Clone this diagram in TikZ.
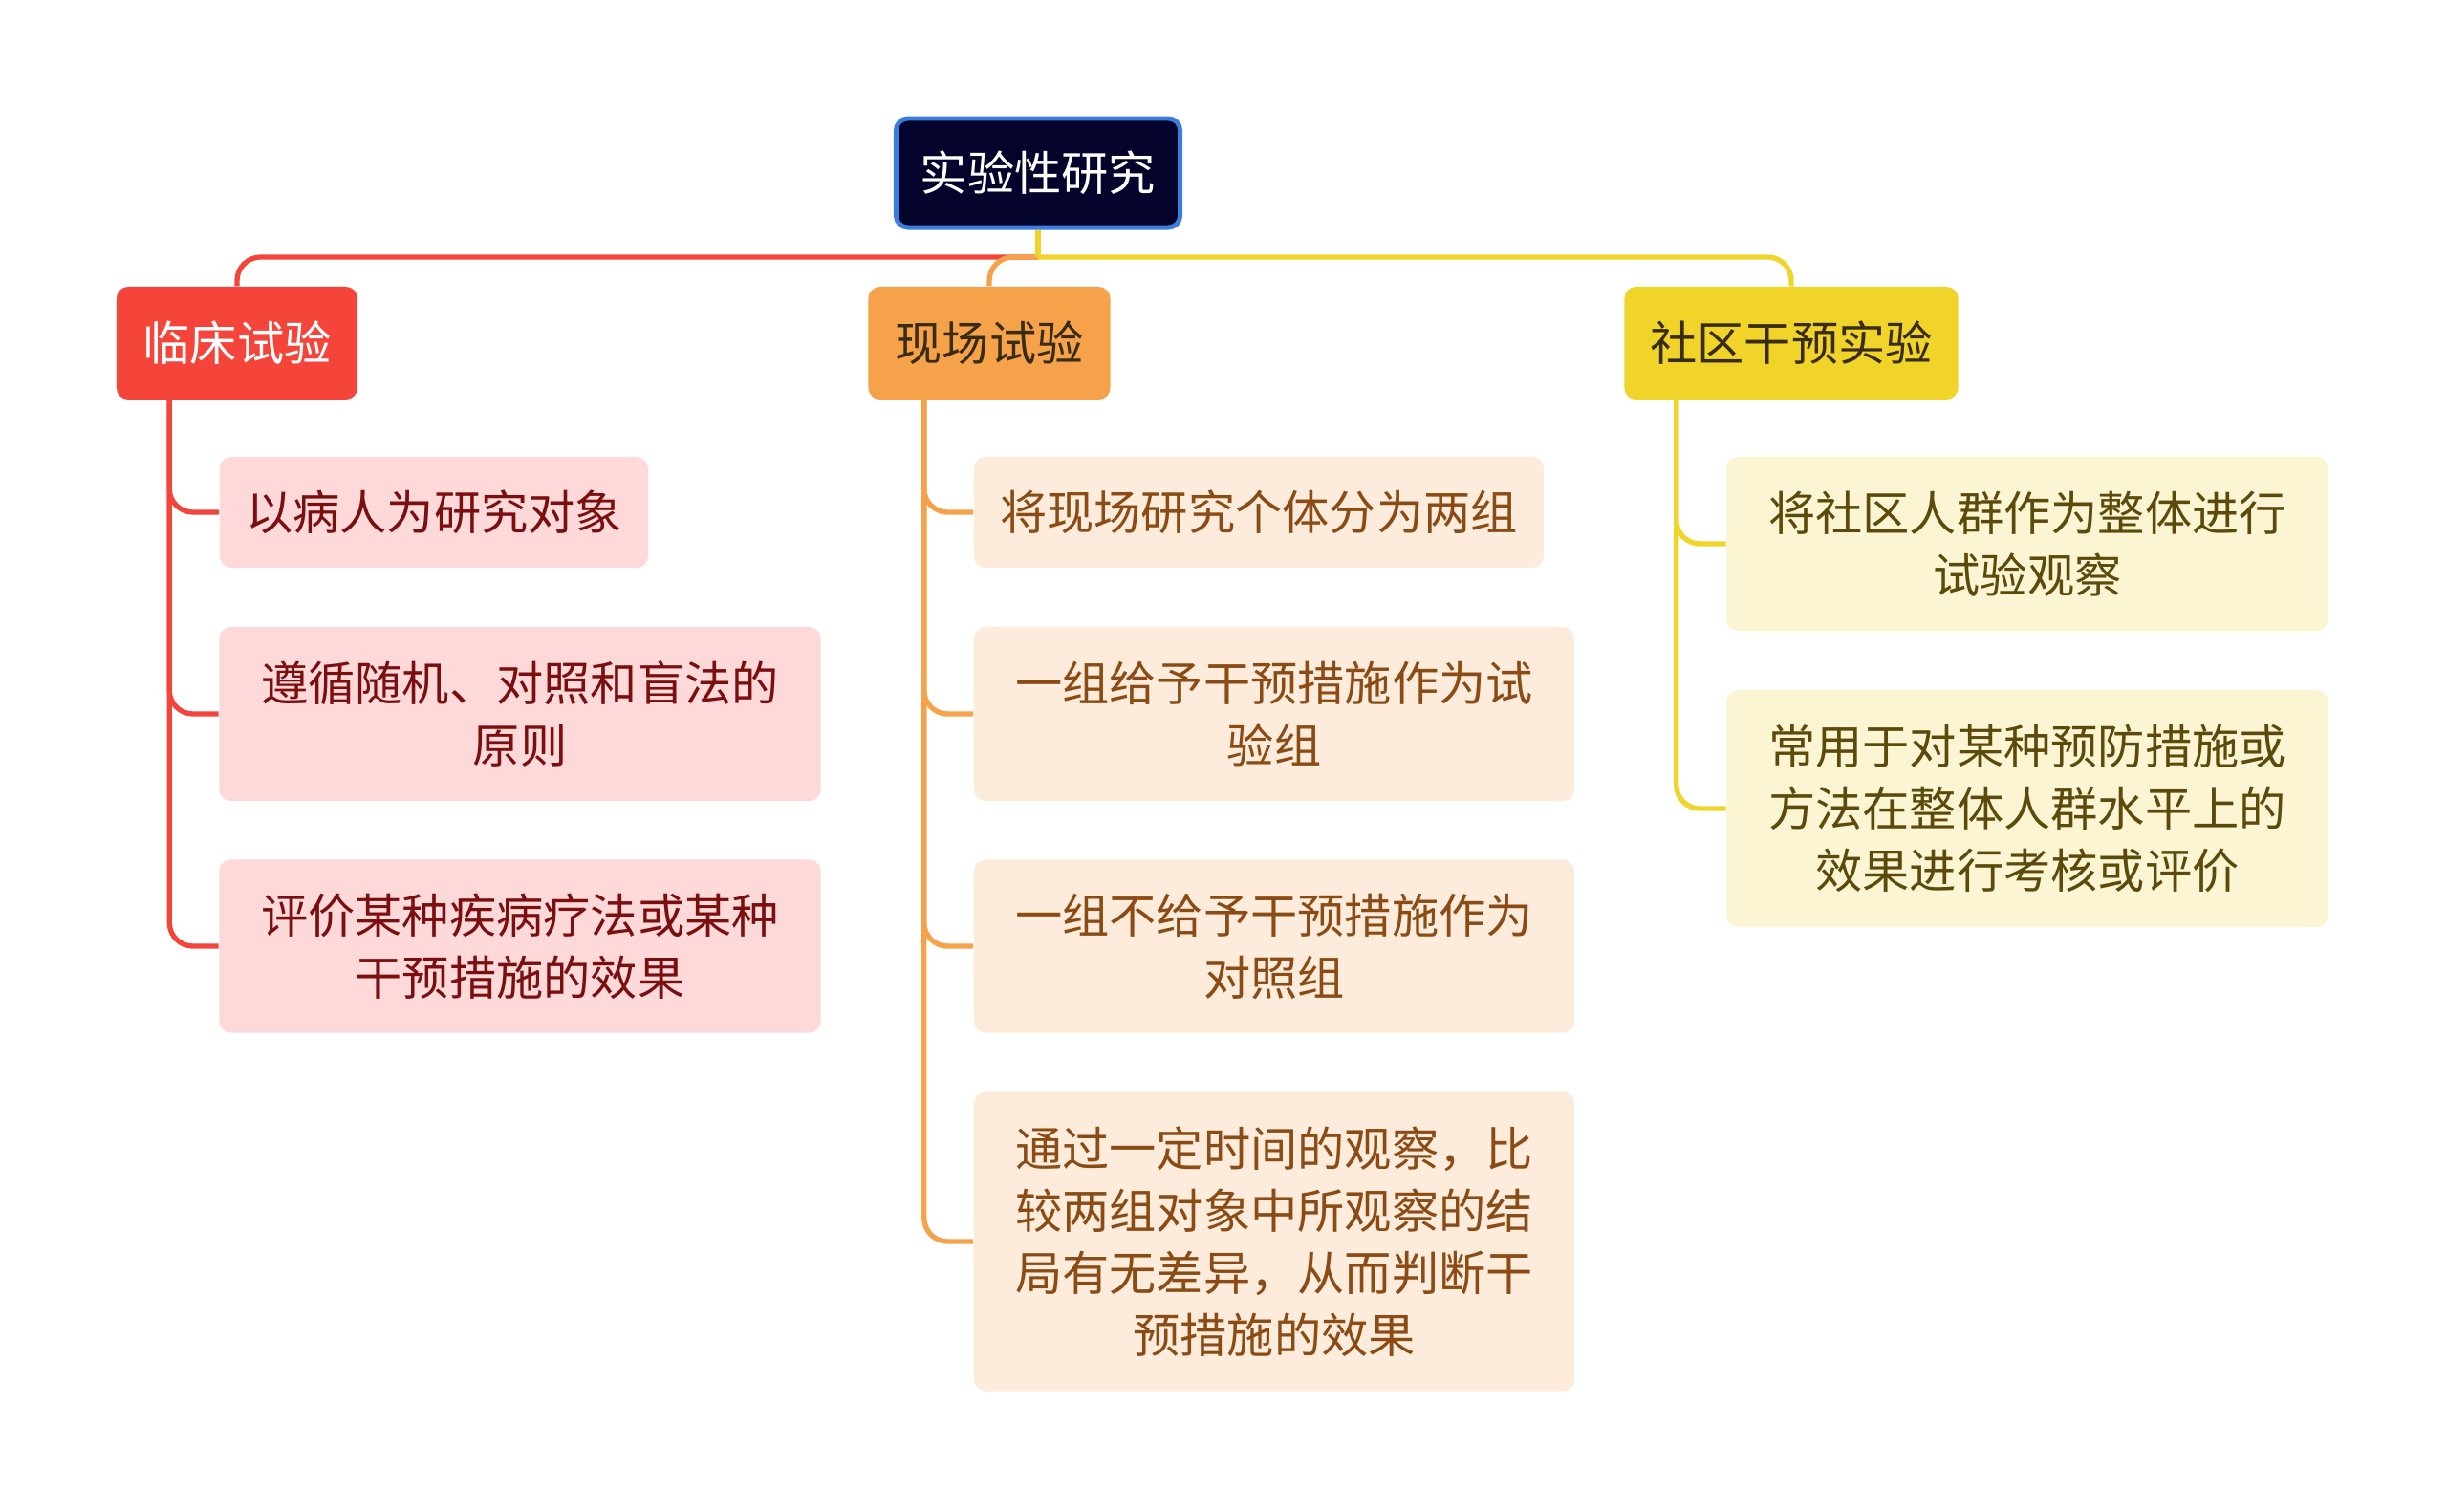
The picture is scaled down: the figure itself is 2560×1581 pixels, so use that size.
\documentclass[tikz,border=0pt]{standalone}
\usepackage{fontspec}
\usepackage{xcolor}
\setmainfont{Noto Sans CJK SC}

\definecolor{rootfill}{HTML}{03032B}
\definecolor{rootedge}{HTML}{3B7DDD}
\definecolor{kred}{HTML}{F5443A}
\definecolor{korange}{HTML}{F5A24B}
\definecolor{kyellow}{HTML}{F0D42A}
\definecolor{cpink}{HTML}{FDD9DA}
\definecolor{cpeach}{HTML}{FDEBDB}
\definecolor{ccream}{HTML}{FBF5D3}
\definecolor{tred}{HTML}{7B0F0F}
\definecolor{tbrown}{HTML}{8A4B14}
\definecolor{tolive}{HTML}{5C4A0A}
\definecolor{tdark}{HTML}{3A2C12}

\tikzset{
  box/.style={rounded corners=3.5pt, inner sep=0pt, align=center,
    font=\fontsize{14pt}{18.5pt}\selectfont},
  rootbox/.style={box, fill=rootfill, draw=rootedge, line width=1.4pt, text=white},
  redbox/.style={box, fill=kred, text=white},
  orangebox/.style={box, fill=korange, text=tdark},
  yellowbox/.style={box, fill=kyellow, text=tdark},
  pinkleaf/.style={box, fill=cpink, text=tred},
  peachleaf/.style={box, fill=cpeach, text=tbrown},
  creamleaf/.style={box, fill=ccream, text=tolive},
  link/.style={line width=1.5pt, rounded corners=7pt},
}

\begin{document}
\begin{tikzpicture}[x=0.01cm, y=-0.01cm]
\useasboundingbox (0,0) rectangle (2560,1581);
% Nodo central y ramas
\node[rootbox, minimum width=2.97cm, minimum height=1.14cm] (root) at (1086,181) {实验性研究};
\node[redbox, minimum width=2.52cm, minimum height=1.18cm] (klin) at (248,359) {临床试验};
\node[orangebox, minimum width=2.53cm, minimum height=1.18cm] (feld) at (1035,359) {现场试验};
\node[yellowbox, minimum width=3.49cm, minimum height=1.18cm] (comm) at (1874,359) {社区干预实验};
% Hojas de 临床试验
\node[pinkleaf, minimum width=4.48cm, minimum height=1.16cm] (k1) at (454,536) {以病人为研究对象};
\node[pinkleaf, minimum width=6.29cm, minimum height=1.82cm] (k2) at (544,747) {遵循随机、对照和盲法的\\原则};
\node[pinkleaf, minimum width=6.29cm, minimum height=1.81cm] (k3) at (544,990) {评价某种疾病疗法或某种\\干预措施的效果};
% Hojas de 现场试验
\node[peachleaf, minimum width=5.96cm, minimum height=1.16cm] (f1) at (1317,536) {将现场研究个体分为两组};
\node[peachleaf, minimum width=6.28cm, minimum height=1.82cm] (f2) at (1333,747) {一组给予干预措施作为试\\验组};
\node[peachleaf, minimum width=6.28cm, minimum height=1.81cm] (f3) at (1333,990) {一组不给予干预措施作为\\对照组};
\node[peachleaf, minimum width=6.28cm, minimum height=3.13cm] (f4) at (1333,1299) {通过一定时间的观察，比\\较两组对象中所观察的结\\局有无差异，从而判断干\\预措施的效果};
% Hojas de 社区干预实验
\node[creamleaf, minimum width=6.29cm, minimum height=1.82cm] (c1) at (2121,569) {将社区人群作为整体进行\\试验观察};
\node[creamleaf, minimum width=6.29cm, minimum height=2.48cm] (c2) at (2121,846) {常用于对某种预防措施或\\方法在整体人群水平上的\\效果进行考核或评价};
% Conectores
\coordinate (rj) at (1086,269);
\draw[link, kred] (rj) -| (klin.north);
\draw[link, korange] (rj) -| (feld.north);
\draw[link, kyellow] (rj) -| (comm.north);
\draw[line width=1.5pt, kyellow] (root.south) -- (rj);
\coordinate (kb) at ([xshift=0.56cm]klin.south west);
\coordinate (fb) at ([xshift=0.59cm]feld.south west);
\coordinate (cb) at ([xshift=0.55cm]comm.south west);
\foreach \leaf in {k1,k2,k3} \draw[link, kred] (kb) |- (\leaf.west);
\foreach \leaf in {f1,f2,f3,f4} \draw[link, korange] (fb) |- (\leaf.west);
\foreach \leaf in {c1,c2} \draw[link, kyellow] (cb) |- (\leaf.west);
\end{tikzpicture}
\end{document}
